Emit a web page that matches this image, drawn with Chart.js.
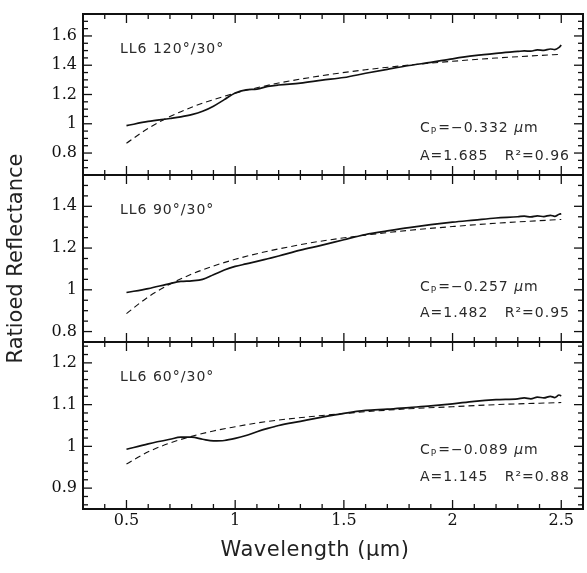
<!DOCTYPE html>
<html>
<head>
<meta charset="utf-8">
<script src="https://cdn.jsdelivr.net/npm/chart.js@4/dist/chart.umd.min.js"></script>
<style>
html, body { margin: 0; padding: 0; background: #ffffff; }
#wrap { position: relative; width: 587px; height: 573px; }
#wrap canvas { position: absolute; left: 0; top: 0; }
</style>
</head>
<body>
<div id="wrap">
  <canvas id="c1" width="587" height="573"></canvas>
  <canvas id="c2" width="587" height="573"></canvas>
  <canvas id="c3" width="587" height="573"></canvas>
</div>
<script>
// ---------- data ----------
const solidWavelength = [0.5, 0.6, 0.7, 0.75, 0.8, 0.85, 0.9, 0.95, 1.0, 1.05, 1.1, 1.15, 1.2, 1.3, 1.4, 1.5, 1.6, 1.7, 1.8, 1.9, 2.0, 2.1, 2.2, 2.3, 2.33, 2.36, 2.39, 2.42, 2.45, 2.47, 2.49, 2.5];
const reflect120 = [0.987, 1.016, 1.036, 1.047, 1.062, 1.085, 1.12, 1.165, 1.21, 1.232, 1.237, 1.255, 1.265, 1.278, 1.298, 1.316, 1.345, 1.372, 1.398, 1.42, 1.444, 1.465, 1.481, 1.494, 1.498, 1.496, 1.505, 1.502, 1.511, 1.507, 1.522, 1.538];
const reflect90  = [0.987, 1.006, 1.03, 1.04, 1.043, 1.05, 1.072, 1.095, 1.112, 1.124, 1.136, 1.149, 1.162, 1.19, 1.214, 1.24, 1.265, 1.282, 1.298, 1.312, 1.324, 1.334, 1.344, 1.35, 1.353, 1.349, 1.354, 1.351, 1.357, 1.352, 1.362, 1.364];
const reflect60  = [0.993, 1.006, 1.017, 1.022, 1.022, 1.017, 1.013, 1.014, 1.019, 1.026, 1.035, 1.043, 1.05, 1.06, 1.07, 1.079, 1.086, 1.089, 1.093, 1.097, 1.102, 1.108, 1.112, 1.114, 1.116, 1.114, 1.118, 1.116, 1.12, 1.117, 1.123, 1.121];

const fitWavelength = [0.5, 0.6, 0.7, 0.8, 0.9, 1.0, 1.1, 1.2, 1.4, 1.6, 1.8, 2.0, 2.2, 2.5];
const fit120 = [0.867, 0.969, 1.049, 1.113, 1.165, 1.209, 1.246, 1.278, 1.329, 1.369, 1.401, 1.427, 1.449, 1.475];
const fit90  = [0.886, 0.966, 1.027, 1.075, 1.114, 1.146, 1.173, 1.196, 1.234, 1.262, 1.285, 1.303, 1.319, 1.337];
const fit60  = [0.958, 0.987, 1.008, 1.024, 1.037, 1.047, 1.056, 1.063, 1.074, 1.083, 1.090, 1.095, 1.100, 1.105];

const panelLabels = ['LL6 120°/30°', 'LL6 90°/30°', 'LL6 60°/30°'];
const cpValues = ['−0.332', '−0.257', '−0.089'];
const aValues  = ['1.685', '1.482', '1.145'];
const r2Values = ['0.96', '0.95', '0.88'];

const xTickValues = [0.5, 1, 1.5, 2, 2.5];
const yTicks120 = [0.8, 1, 1.2, 1.4, 1.6];
const yTicks90  = [0.8, 1, 1.2, 1.4];
const yTicks60  = [0.9, 1, 1.1, 1.2];

const xTitle = 'Wavelength (μm)';
const yTitle = 'Ratioed Reflectance';

// ---------- helpers ----------
const INK = '#111111';
const TXT = '#2a2a2a';
const SANS = '"DejaVu Sans", sans-serif';
const SERIF = '"DejaVu Serif", serif';

function pairs(xs, ys) { return xs.map((x, i) => ({ x: x, y: ys[i] })); }
function near(a, list) { return list.some(m => Math.abs(a - m) < 1e-6); }

const decor = {
  id: 'panelDecor',
  afterDraw(chart) {
    const o = chart.options.plugins.panelDecor;
    const { ctx, chartArea: a, scales } = chart;
    const xs = scales.x, ys = scales.y;
    ctx.save();
    ctx.strokeStyle = INK;
    ctx.lineWidth = 1.3;
    const seg = (x1, y1, x2, y2) => { ctx.beginPath(); ctx.moveTo(x1, y1); ctx.lineTo(x2, y2); ctx.stroke(); };
    // x ticks (top and bottom, inward)
    for (let k = 4; k <= 25; k++) {
      const v = k / 10;
      const len = near(v, xTickValues) ? 9 : 5;
      const px = xs.getPixelForValue(v);
      seg(px, a.top, px, a.top + len);
      seg(px, a.bottom, px, a.bottom - len);
    }
    // y ticks (left and right, inward)
    const kMin = Math.ceil(ys.min / o.minorStep - 1e-6), kMax = Math.floor(ys.max / o.minorStep + 1e-6);
    for (let k = kMin; k <= kMax; k++) {
      const v = k * o.minorStep;
      const len = near(v, o.yMajor) ? 9 : 5;
      const py = ys.getPixelForValue(v);
      seg(a.left, py, a.left + len, py);
      seg(a.right, py, a.right - len, py);
    }
    // frame
    ctx.lineWidth = 2;
    ctx.strokeRect(a.left, a.top, a.right - a.left, a.bottom - a.top);

    // texts
    ctx.fillStyle = TXT;
    ctx.textBaseline = 'middle';
    ctx.textAlign = 'left';
    ctx.letterSpacing = '1px';
    ctx.font = '14px ' + SANS;
    ctx.fillText(o.label, a.left + 37, a.top + 35);

    let x = a.left + 337;
    const yc = a.top + o.cpOff;
    ctx.fillText('C', x, yc); x += ctx.measureText('C').width;
    ctx.font = '9px ' + SANS;
    ctx.fillText('P', x, yc + 4); x += ctx.measureText('P').width + 1;
    ctx.font = '14px ' + SANS;
    const mid = '=' + o.cp + ' ';
    ctx.fillText(mid, x, yc); x += ctx.measureText(mid).width;
    ctx.font = 'italic 14px ' + SANS;
    ctx.fillText('μ', x, yc); x += ctx.measureText('μ').width;
    ctx.font = '14px ' + SANS;
    ctx.fillText('m', x, yc);

    ctx.fillText('A=' + o.a + '   R²=' + o.r2, a.left + 337, a.top + o.aOff);

    if (o.xTitle) {
      ctx.font = '21px ' + SANS;
      ctx.letterSpacing = '0.5px';
      ctx.textAlign = 'center';
      ctx.fillStyle = '#222';
      ctx.fillText(o.xTitle, (a.left + a.right) / 2 - 18, 551);
    }
    ctx.restore();
  }
};

function makePanel(id, p) {
  return new Chart(document.getElementById(id), {
    type: 'line',
    data: {
      datasets: [
        { data: pairs(solidWavelength, p.solid), borderColor: INK, borderWidth: 1.7, pointRadius: 0, fill: false, cubicInterpolationMode: 'monotone' },
        { data: pairs(fitWavelength, p.fit), borderColor: INK, borderWidth: 1.1, borderDash: [6, 4], pointRadius: 0, fill: false, cubicInterpolationMode: 'monotone' }
      ]
    },
    options: {
      responsive: false,
      animation: false,
      events: [],
      layout: { padding: { top: p.padTop, bottom: p.padBottom, left: 0, right: 4 } },
      plugins: {
        legend: { display: false },
        tooltip: { enabled: false },
        panelDecor: { label: p.label, cp: p.cp, a: p.a, r2: p.r2, cpOff: p.cpOff, aOff: p.aOff, yMajor: p.yTicks, minorStep: p.minorStep, xTitle: p.xTitle }
      },
      scales: {
        x: {
          type: 'linear', min: 0.3, max: 2.6,
          grid: { display: false, drawTicks: false },
          border: { display: false },
          afterBuildTicks: s => { s.ticks = xTickValues.map(v => ({ value: v })); },
          ticks: { display: p.showX, color: INK, padding: 4, maxRotation: 0, autoSkip: false,
                   font: { family: 'DejaVu Serif', size: 16, lineHeight: 1 }, callback: v => String(v) },
          afterFit: s => { s.height = p.xHeight; }
        },
        y: {
          type: 'linear', min: p.yMin, max: p.yMax,
          grid: { display: false, drawTicks: false },
          border: { display: false },
          afterBuildTicks: s => { s.ticks = p.yTicks.map(v => ({ value: v })); },
          ticks: { color: INK, padding: 6, autoSkip: false,
                   font: { family: 'DejaVu Serif', size: 16, lineHeight: 1 }, callback: v => String(v) },
          title: p.yTitle ? { display: true, text: p.yTitle, color: '#222', padding: { top: 4, bottom: 4 },
                              font: { family: 'DejaVu Sans', size: 21 } } : { display: false },
          afterFit: s => { s.width = 83; }
        }
      }
    },
    plugins: [decor]
  });
}

makePanel('c1', { solid: reflect120, fit: fit120, label: panelLabels[0], cp: cpValues[0], a: aValues[0], r2: r2Values[0],
  padTop: 8, padBottom: 398, yMin: 0.65, yMax: 1.75, yTicks: yTicks120, minorStep: 0.05, showX: false, xHeight: 0, cpOff: 114, aOff: 142 });
makePanel('c2', { solid: reflect90, fit: fit90, label: panelLabels[1], cp: cpValues[1], a: aValues[1], r2: r2Values[1],
  padTop: 175, padBottom: 231, yMin: 0.75, yMax: 1.55, yTicks: yTicks90, minorStep: 0.05, showX: false, xHeight: 0, cpOff: 112, aOff: 138, yTitle: yTitle });
makePanel('c3', { solid: reflect60, fit: fit60, label: panelLabels[2], cp: cpValues[2], a: aValues[2], r2: r2Values[2],
  padTop: 342, padBottom: 0, yMin: 0.85, yMax: 1.25, yTicks: yTicks60, minorStep: 0.02, showX: true, xHeight: 64, cpOff: 108, aOff: 135, xTitle: xTitle });
</script>
</body>
</html>
